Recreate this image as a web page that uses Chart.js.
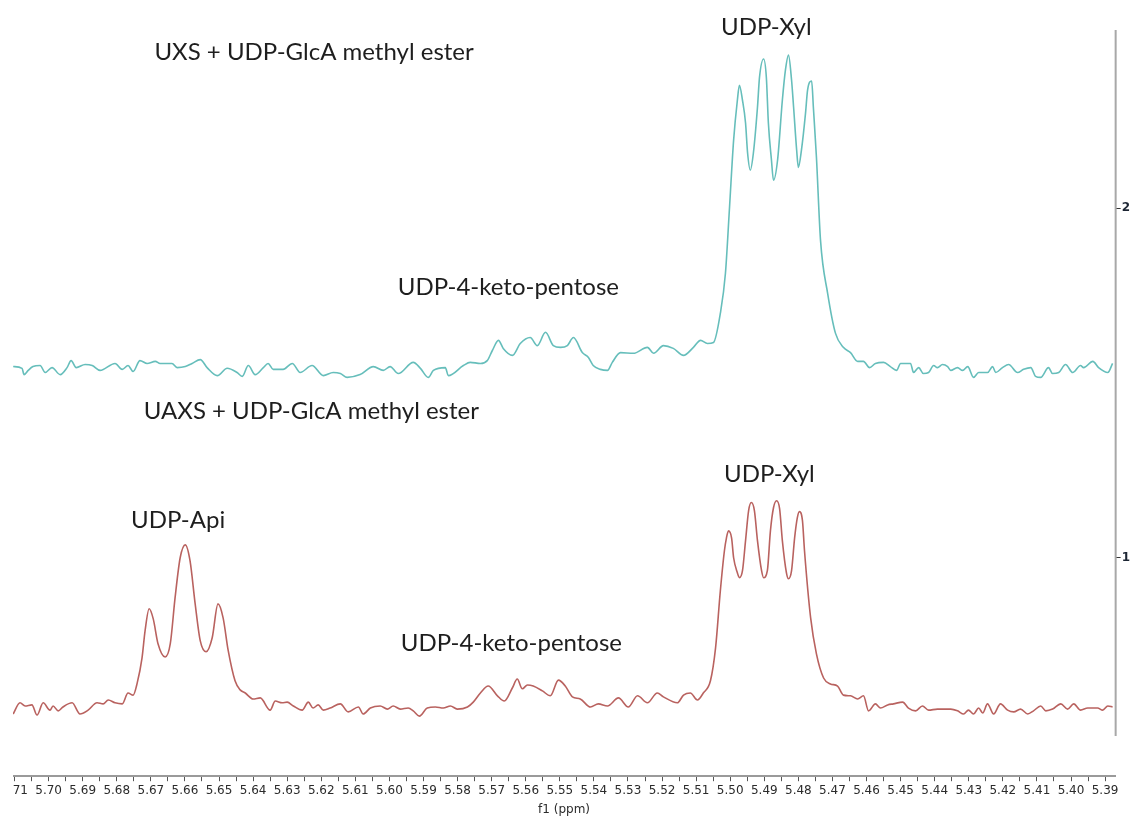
<!DOCTYPE html>
<html>
<head>
<meta charset="utf-8">
<script src="https://cdn.jsdelivr.net/npm/chart.js@4.4.1/dist/chart.umd.min.js"></script>
<style>
    html, body {margin: 0; padding: 0; background: #fff; overflow: hidden;}
    .crop {position: absolute; left: 13px; top: 0; width: 1121px; height: 817px; overflow: hidden;}
    .crop canvas {position: absolute; left: -40px; top: 0;}
</style>
</head>
<body>
<div class="crop">
    <canvas id="nmr" width="1161" height="817"></canvas>
</div>
<script>
// UXS + UDP-GlcA methyl ester (upper trace)
const topPpm = [5.7104, 5.7078, 5.7072, 5.7060, 5.7046, 5.7025, 5.7010, 5.6990, 5.6966, 5.6946,
    5.6934, 5.6919, 5.6893, 5.6872, 5.6849, 5.6805, 5.6784, 5.6767, 5.6752, 5.6732,
    5.6711, 5.6687, 5.6673, 5.6638, 5.6623, 5.6599, 5.6579, 5.6555, 5.6535, 5.6505,
    5.6476, 5.6447, 5.6432, 5.6414, 5.6394, 5.6370, 5.6356, 5.6341, 5.6312, 5.6285,
    5.6262, 5.6227, 5.6194, 5.6165, 5.6144, 5.6124, 5.6086, 5.6047, 5.6018, 5.5998,
    5.5974, 5.5930, 5.5909, 5.5886, 5.5871, 5.5836, 5.5827, 5.5783, 5.5763, 5.5733,
    5.5713, 5.5698, 5.5680, 5.5666, 5.5639, 5.5616, 5.5587, 5.5566, 5.5542, 5.5519,
    5.5498, 5.5478, 5.5460, 5.5434, 5.5416, 5.5402, 5.5381, 5.5360, 5.5346, 5.5322,
    5.5284, 5.5243, 5.5225, 5.5196, 5.5167, 5.5137, 5.5108, 5.5087, 5.5067, 5.5049,
    5.5029, 5.5014, 5.5002, 5.4990, 5.4979, 5.4973, 5.4964, 5.4955, 5.4949, 5.4941,
    5.4932, 5.4920, 5.4914, 5.4902, 5.4894, 5.4888, 5.4879, 5.4873, 5.4861, 5.4847,
    5.4838, 5.4829, 5.4820, 5.4814, 5.4805, 5.4800, 5.4791, 5.4779, 5.4773, 5.4761,
    5.4756, 5.4747, 5.4735, 5.4714,
    5.4691, 5.4668, 5.4647, 5.4626, 5.4609, 5.4591, 5.4574, 5.4550, 5.4530, 5.4512,
    5.4500, 5.4471, 5.4462, 5.4447, 5.4433, 5.4418, 5.4403, 5.4392, 5.4377, 5.4362,
    5.4353, 5.4333, 5.4318, 5.4303, 5.4286, 5.4271, 5.4245, 5.4230, 5.4221, 5.4201,
    5.4183, 5.4157, 5.4139, 5.4118, 5.4104, 5.4089, 5.4066, 5.4054, 5.4036, 5.4016,
    5.3995, 5.3972, 5.3963, 5.3936, 5.3919, 5.3892, 5.3878];
const topInt = [1.547, 1.542, 1.524, 1.536, 1.547, 1.550, 1.530, 1.544, 1.524, 1.544,
    1.564, 1.544, 1.553, 1.550, 1.536, 1.556, 1.539, 1.550, 1.533, 1.564,
    1.556, 1.562, 1.556, 1.556, 1.544, 1.547, 1.556, 1.567, 1.544, 1.521,
    1.542, 1.530, 1.519, 1.550, 1.524, 1.544, 1.556, 1.539, 1.539, 1.556,
    1.530, 1.550, 1.521, 1.530, 1.527, 1.516, 1.524, 1.547, 1.536, 1.547,
    1.527, 1.559, 1.542, 1.516, 1.536, 1.544, 1.521, 1.550, 1.559, 1.556,
    1.564, 1.593, 1.622, 1.599, 1.579, 1.613, 1.630, 1.607, 1.645, 1.607,
    1.602, 1.607, 1.630, 1.587, 1.573, 1.550, 1.539, 1.536, 1.559, 1.587,
    1.585, 1.602, 1.585, 1.607, 1.599, 1.579, 1.602, 1.622, 1.613, 1.616,
    1.699, 1.814, 2.003, 2.195, 2.309, 2.352, 2.309, 2.244, 2.158, 2.109,
    2.158, 2.289, 2.375, 2.427, 2.375, 2.244, 2.138, 2.080, 2.138, 2.309,
    2.395, 2.438, 2.367, 2.289, 2.166, 2.117, 2.166, 2.272, 2.338, 2.364,
    2.289, 2.146, 1.908, 1.756,
    1.642, 1.602, 1.587, 1.562, 1.562, 1.544, 1.556, 1.559, 1.547, 1.536,
    1.556, 1.556, 1.530, 1.544, 1.527, 1.530, 1.550, 1.544, 1.553, 1.547,
    1.536, 1.544, 1.536, 1.547, 1.516, 1.530, 1.530, 1.547, 1.530, 1.544,
    1.553, 1.530, 1.539, 1.544, 1.519, 1.516, 1.544, 1.527, 1.530, 1.553,
    1.530, 1.550, 1.544, 1.562, 1.544, 1.530, 1.556];

// UAXS + UDP-GlcA methyl ester (lower trace)
const botPpm = [5.7104, 5.7084, 5.7069, 5.7049, 5.7034, 5.7016, 5.6996, 5.6987, 5.6972, 5.6958,
    5.6931, 5.6908, 5.6884, 5.6858, 5.6840, 5.6825, 5.6805, 5.6784, 5.6767, 5.6752,
    5.6740, 5.6726, 5.6717, 5.6705, 5.6693, 5.6679, 5.6658, 5.6643, 5.6629, 5.6614,
    5.6599, 5.6585, 5.6570, 5.6555, 5.6538, 5.6520, 5.6503, 5.6488, 5.6473, 5.6453,
    5.6438, 5.6423, 5.6400, 5.6379, 5.6350, 5.6335, 5.6315, 5.6300, 5.6282, 5.6256,
    5.6238, 5.6224, 5.6209, 5.6194, 5.6174, 5.6144, 5.6121, 5.6091, 5.6077, 5.6056,
    5.6027, 5.6006, 5.5989, 5.5968, 5.5945, 5.5930, 5.5912, 5.5889, 5.5865, 5.5842,
    5.5821, 5.5801, 5.5771, 5.5754, 5.5733, 5.5710, 5.5683, 5.5663, 5.5639, 5.5625,
    5.5610, 5.5595, 5.5578, 5.5551, 5.5528, 5.5504, 5.5484, 5.5463, 5.5440, 5.5410,
    5.5387, 5.5360, 5.5328, 5.5299, 5.5272, 5.5243, 5.5214, 5.5196, 5.5155, 5.5137,
    5.5117, 5.5096, 5.5079, 5.5058, 5.5043, 5.5029,
    5.5017, 5.5011, 5.5005, 5.4996, 5.4990, 5.4979, 5.4973, 5.4964, 5.4955, 5.4946,
    5.4938, 5.4929, 5.4920, 5.4908, 5.4902, 5.4891, 5.4882, 5.4873, 5.4864, 5.4855,
    5.4847, 5.4835, 5.4829, 5.4820, 5.4811, 5.4803, 5.4797, 5.4788, 5.4782, 5.4764,
    5.4747, 5.4726, 5.4706, 5.4685, 5.4668, 5.4647, 5.4626, 5.4609,
    5.4594, 5.4574, 5.4559, 5.4538, 5.4521, 5.4494, 5.4477, 5.4456, 5.4436, 5.4418,
    5.4392, 5.4353, 5.4333, 5.4315, 5.4301, 5.4286, 5.4271, 5.4259, 5.4245, 5.4227,
    5.4207, 5.4186, 5.4168, 5.4148, 5.4127, 5.4110, 5.4089, 5.4074, 5.4054, 5.4030,
    5.4010, 5.3992, 5.3972, 5.3951, 5.3922, 5.3907, 5.3892, 5.3878];
const botInt = [0.553, 0.585, 0.576, 0.579, 0.550, 0.585, 0.564, 0.576, 0.562, 0.573,
    0.585, 0.553, 0.564, 0.585, 0.582, 0.593, 0.585, 0.582, 0.613, 0.607,
    0.642, 0.713, 0.791, 0.854, 0.825, 0.754, 0.716, 0.754, 0.885, 1.000,
    1.037, 0.991, 0.868, 0.762, 0.731, 0.771, 0.868, 0.828, 0.734, 0.648,
    0.622, 0.613, 0.596, 0.599, 0.564, 0.590, 0.585, 0.587, 0.576, 0.564,
    0.587, 0.570, 0.579, 0.564, 0.570, 0.582, 0.559, 0.573, 0.553, 0.570,
    0.576, 0.567, 0.576, 0.567, 0.570, 0.562, 0.547, 0.570, 0.573, 0.570,
    0.576, 0.567, 0.573, 0.587, 0.613, 0.633, 0.605, 0.590, 0.628, 0.653,
    0.625, 0.636, 0.633, 0.619, 0.605, 0.650, 0.633, 0.602, 0.596, 0.573,
    0.582, 0.576, 0.599, 0.573, 0.605, 0.585, 0.613, 0.602, 0.585, 0.607,
    0.613, 0.593, 0.613, 0.648, 0.742, 0.905,
    1.020, 1.057, 1.077, 1.057, 1.000, 0.957, 0.943, 0.963, 1.049, 1.135,
    1.158, 1.135, 1.049, 0.963, 0.943, 0.963, 1.077, 1.143, 1.163, 1.140,
    1.049, 0.957, 0.940, 0.963, 1.057, 1.115, 1.132, 1.106, 1.020, 0.828,
    0.725, 0.656, 0.639, 0.633, 0.607, 0.605, 0.596, 0.605,
    0.562, 0.582, 0.570, 0.579, 0.582, 0.587, 0.570, 0.562, 0.576, 0.564,
    0.567, 0.567, 0.562, 0.553, 0.564, 0.553, 0.570, 0.556, 0.582, 0.553,
    0.582, 0.564, 0.559, 0.567, 0.553, 0.562, 0.576, 0.562, 0.567, 0.582,
    0.567, 0.582, 0.564, 0.570, 0.570, 0.564, 0.576, 0.573];

// right hand intensity ticks
const yTicks = [1, 2];

// peak labels, anchored in ppm / intensity
const notes = [
    {text: 'UXS + UDP-GlcA methyl ester', ppm: 5.6221, val: 2.447},
    {text: 'UDP-Xyl', ppm: 5.4894, val: 2.519},
    {text: 'UDP-4-keto-pentose', ppm: 5.5651, val: 1.774},
    {text: 'UAXS + UDP-GlcA methyl ester', ppm: 5.6229, val: 1.418},
    {text: 'UDP-Api', ppm: 5.6620, val: 1.106},
    {text: 'UDP-Xyl', ppm: 5.4885, val: 1.238},
    {text: 'UDP-4-keto-pentose', ppm: 5.5642, val: 0.754},
];

const toPoints = (xs, ys) => xs.map((x, i) => ({x: x, y: ys[i]}));

// draws the short intensity axis line and the peak labels
const notesPlugin = {
    id: 'notes',
    afterDraw(chart) {
        const {ctx, chartArea} = chart;
        const x = chart.scales.x;
        const y = chart.scales.y;
        ctx.save();
        ctx.strokeStyle = '#a8a8a8';
        ctx.lineWidth = 2;
        ctx.beginPath();
        ctx.moveTo(chartArea.right, y.getPixelForValue(2.51));
        ctx.lineTo(chartArea.right, y.getPixelForValue(0.49));
        ctx.stroke();

        ctx.fillStyle = '#1e1e1e';
        ctx.font = '24px Lato';
        ctx.textAlign = 'center';
        ctx.textBaseline = 'middle';
        notes.forEach(function (n) {
            ctx.fillText(n.text, x.getPixelForValue(n.ppm), y.getPixelForValue(n.val));
        });
        ctx.restore();
    }
};

const ctx = document.getElementById('nmr').getContext('2d');
const nmrChart = new Chart(ctx, {
    type: 'line',
    data: {
        datasets: [
            {
                label: 'UXS + UDP-GlcA methyl ester',
                data: toPoints(topPpm, topInt),
                borderColor: '#66bebb',
                borderWidth: 1.6,
                pointRadius: 0,
                cubicInterpolationMode: 'monotone',
            }, {
                label: 'UAXS + UDP-GlcA methyl ester',
                data: toPoints(botPpm, botInt),
                borderColor: '#b9625f',
                borderWidth: 1.6,
                pointRadius: 0,
                cubicInterpolationMode: 'monotone',
            }
        ]
    },
    options: {
        responsive: false,
        animation: false,
        events: [],
        layout: {
            padding: {left: 39.5, top: 30, right: 3, bottom: 0}
        },
        plugins: {
            legend: {display: false},
            tooltip: {enabled: false},
        },
        scales: {
            x: {
                type: 'linear',
                reverse: true,
                min: 5.3869,
                max: 5.7106,
                border: {color: '#9a9a9a', width: 2},
                grid: {drawOnChartArea: false, tickLength: 5, color: '#555'},
                ticks: {
                    stepSize: 0.005,
                    includeBounds: false,
                    autoSkip: false,
                    maxRotation: 0,
                    padding: 2,
                    color: '#2b2b2b',
                    font: {family: 'DejaVu Sans', size: 12},
                    callback: function (value) {
                        return Math.round(value * 200) % 2 === 0 ? value.toFixed(2) : '';
                    }
                },
                title: {
                    display: true,
                    text: 'f1 (ppm)',
                    color: '#2b2b2b',
                    font: {family: 'DejaVu Sans', size: 12},
                    padding: {top: 3, bottom: 0}
                }
            },
            y: {
                position: 'right',
                min: 0.375,
                max: 2.51,
                afterBuildTicks: function (axis) {
                    axis.ticks = yTicks.map(v => ({value: v}));
                },
                border: {display: false},
                grid: {drawOnChartArea: false, tickLength: 5, color: '#333'},
                ticks: {
                    padding: 1,
                    color: '#1c2533',
                    font: {family: 'DejaVu Sans', size: 12, weight: 'bold'},
                }
            }
        }
    },
    plugins: [notesPlugin]
});
</script>
</body>
</html>
